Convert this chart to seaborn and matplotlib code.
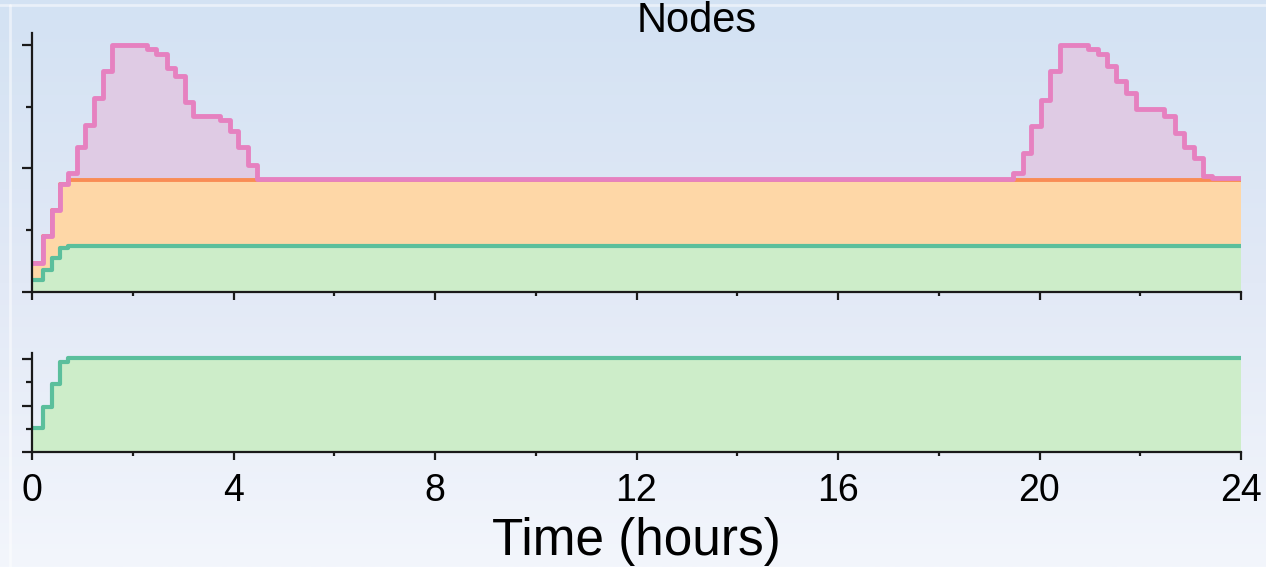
import numpy as np
import matplotlib
matplotlib.use("Agg")
import matplotlib.pyplot as plt
import seaborn as sns
from matplotlib.colors import LinearSegmentedColormap
from matplotlib.ticker import MultipleLocator
from matplotlib.lines import Line2D

sns.set_theme(style="ticks")
plt.rcParams['font.family'] = ['Liberation Sans', 'DejaVu Sans']

# step data: each value holds from its time until the next time (hours)
# top panel, stacked levels
total_time = [0, 0.21, 0.39, 0.56, 0.72, 0.89, 1.05, 1.24, 1.40, 1.58,
              2.28, 2.47, 2.67, 2.84, 3.04, 3.20, 3.73, 3.93, 4.09, 4.29, 4.46,
              19.47, 19.67, 19.83, 20.02, 20.20, 20.40, 20.96, 21.16, 21.34,
              21.52, 21.72, 21.92, 22.48, 22.68, 22.86, 23.06, 23.24, 23.43, 24]
total_level = [0.47, 0.90, 1.32, 1.74, 1.93, 2.35, 2.70, 3.14, 3.57, 4.00,
               3.93, 3.85, 3.62, 3.50, 3.08, 2.84, 2.79, 2.60, 2.35, 2.06, 1.83,
               1.92, 2.25, 2.69, 3.11, 3.57, 4.00, 3.93, 3.85, 3.65,
               3.41, 3.22, 2.96, 2.84, 2.58, 2.35, 2.17, 1.88, 1.84, 1.84]

orange_time = [0, 0.21, 0.39, 0.56, 0.72, 24]
orange_level = [0.47, 0.90, 1.32, 1.74, 1.81, 1.81]

green_time = [0, 0.21, 0.39, 0.56, 0.72, 24]
green_level = [0.19, 0.36, 0.55, 0.71, 0.74, 0.74]

# bottom panel
bottom_time = [0, 0.21, 0.39, 0.56, 0.72, 24]
bottom_level = [1.03, 1.96, 2.93, 3.88, 4.05, 4.05]

pink, purple_fill = "#e681c0", "#dfcbe4"
orange, orange_fill = "#f98c55", "#fed7a7"
green, green_fill = "#5bbf9c", "#cdedc9"
axis_col = "#1a1a1a"

fig = plt.figure(figsize=(12.66, 5.67), dpi=100)

# slide-like background gradient
bg = fig.add_axes([0, 0, 1, 1], zorder=-10)
cmap = LinearSegmentedColormap.from_list("bg", ["#d3e2f3", "#e2e9f6", "#f3f6fc"])
bg.imshow(np.linspace(0, 1, 256).reshape(-1, 1), aspect="auto", cmap=cmap,
          extent=[0, 1, 0, 1])
bg.set_axis_off()
fig.add_artist(Line2D([0, 1], [1 - 5 / 567, 1 - 5 / 567], color="white", alpha=0.5, lw=2))
fig.add_artist(Line2D([10 / 1266, 10 / 1266], [0, 1 - 5 / 567], color="white", alpha=0.5, lw=2))

ax1 = fig.add_axes([32 / 1266, 275 / 567, 1209 / 1266, 259 / 567])
ax2 = fig.add_axes([32 / 1266, 114.7 / 567, 1209 / 1266, 99.3 / 567])

# top panel: fills from back to front, then lines
ax1.fill_between(total_time, total_level, step="post", color=purple_fill, lw=0)
ax1.fill_between(orange_time, orange_level, step="post", color=orange_fill, lw=0)
ax1.fill_between(green_time, green_level, step="post", color=green_fill, lw=0)
sns.lineplot(x=orange_time, y=orange_level, ax=ax1, color=orange, lw=2.8,
             drawstyle="steps-post", legend=False)
sns.lineplot(x=green_time, y=green_level, ax=ax1, color=green, lw=3.0,
             drawstyle="steps-post", legend=False)
sns.lineplot(x=total_time, y=total_level, ax=ax1, color=pink, lw=3.5,
             drawstyle="steps-post", legend=False)

# bottom panel
ax2.fill_between(bottom_time, bottom_level, step="post", color=green_fill, lw=0)
sns.lineplot(x=bottom_time, y=bottom_level, ax=ax2, color=green, lw=3.0,
             drawstyle="steps-post", legend=False)

ax1.set_ylim(0, 4.19)
ax2.set_ylim(0, 4.26)
for ax in (ax1, ax2):
    ax.set_facecolor("none")
    ax.set_xlim(0, 24)
    for s in ("top", "right"):
        ax.spines[s].set_visible(False)
    for s in ("left", "bottom"):
        ax.spines[s].set_color(axis_col)
        ax.spines[s].set_linewidth(1.6)
    ax.xaxis.set_major_locator(MultipleLocator(4))
    ax.xaxis.set_minor_locator(MultipleLocator(2))
    ax.yaxis.set_major_locator(MultipleLocator(2))
    ax.yaxis.set_minor_locator(MultipleLocator(1))
    ax.tick_params(axis="y", which="major", length=7, width=1.6, color=axis_col, labelleft=False)
    ax.tick_params(axis="y", which="minor", length=4, width=1.6, color=axis_col)
    ax.tick_params(axis="x", which="major", length=6, width=1.6, color=axis_col)
    ax.tick_params(axis="x", which="minor", length=3, width=1.6, color=axis_col)
    ax.set_xlabel("")
    ax.set_ylabel("")

ax1.tick_params(axis="x", labelbottom=False)
ax2.tick_params(axis="x", which="major", labelsize=27, pad=9, labelcolor="black")
ax2.set_xticks([0, 4, 8, 12, 16, 20, 24])
ax2.set_xlabel("Time (hours)", fontsize=37, labelpad=6, color="black")

fig.text(697 / 1266, 1 - 32 / 567, "Nodes", ha="center", va="baseline",
         fontsize=30, color="black")

fig.savefig("out.png", dpi=100)
